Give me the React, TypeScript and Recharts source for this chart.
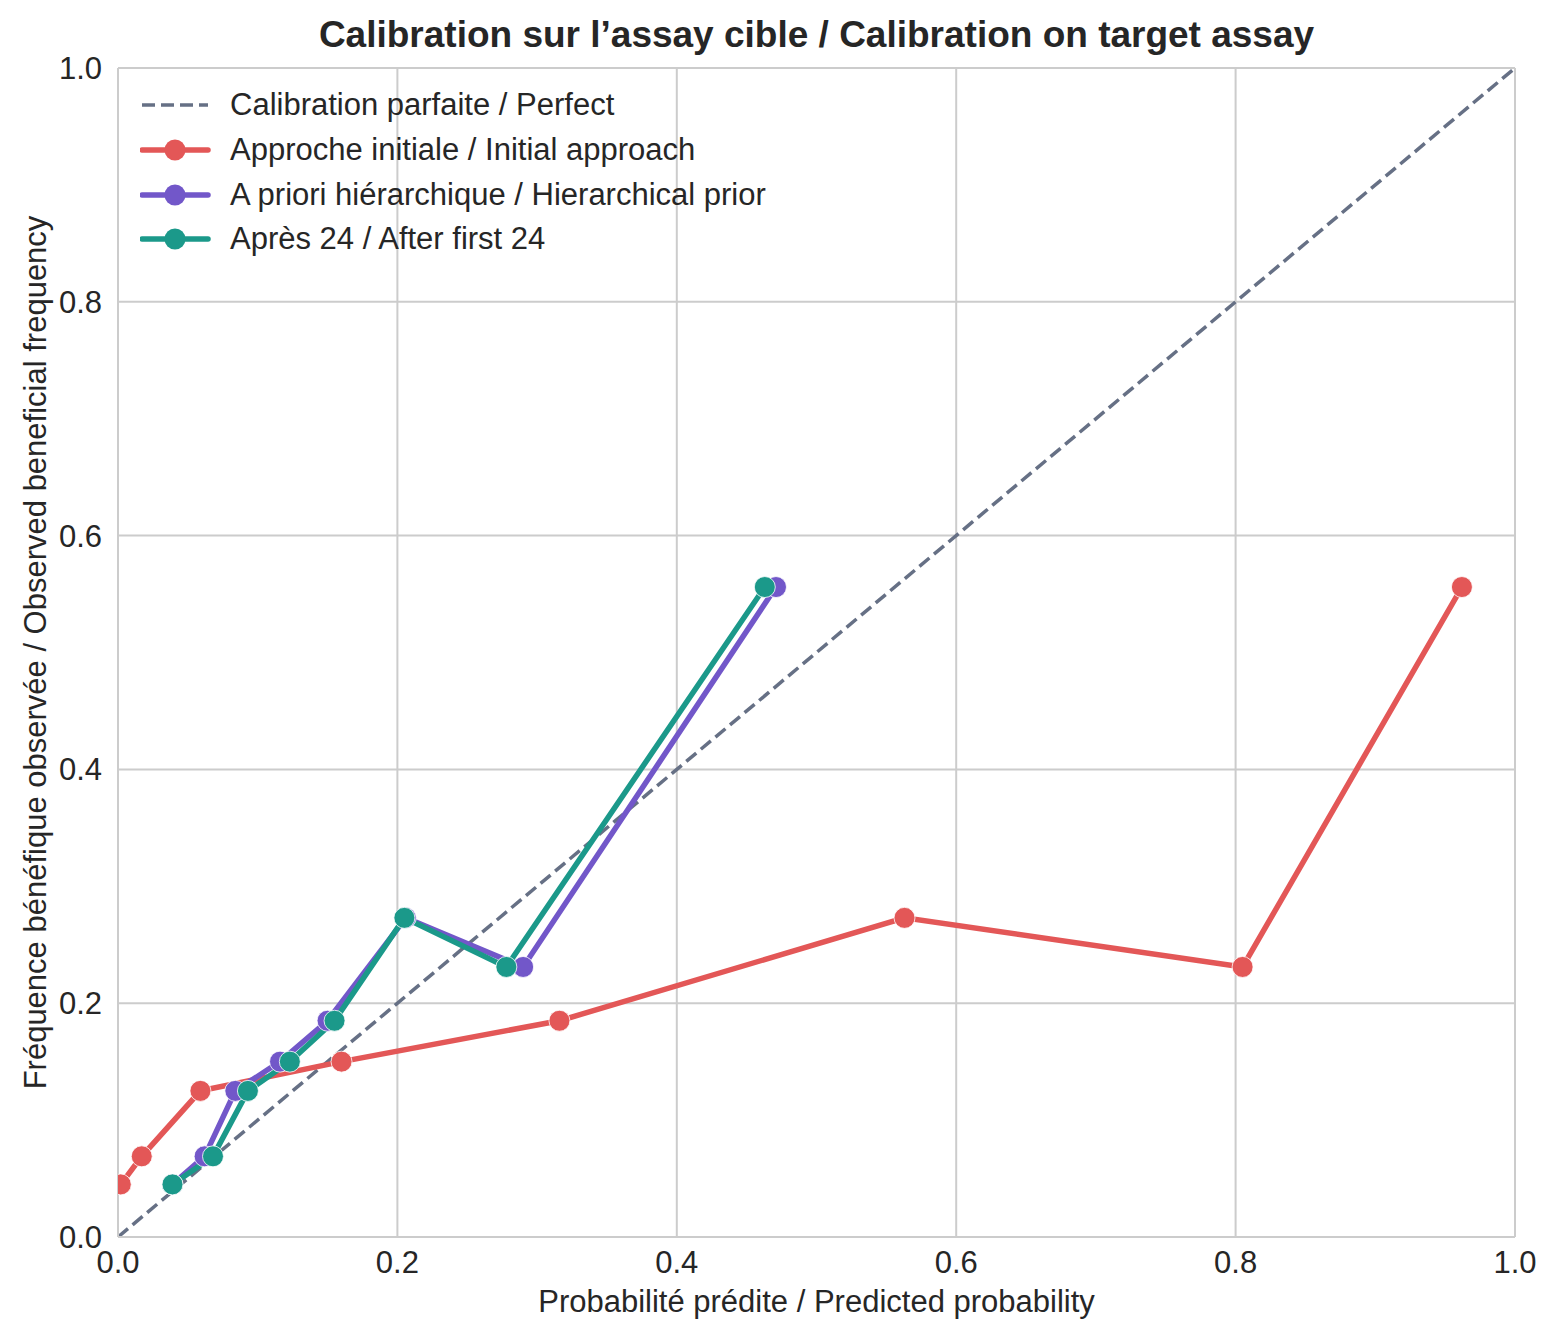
import { ComposedChart, Line, XAxis, YAxis, CartesianGrid } from "recharts";

const ticks = [0, 0.2, 0.4, 0.6, 0.8, 1.0];

const perfectX = [0, 1];
const perfectY = [0, 1];

const initialX = [0.002, 0.017, 0.059, 0.16, 0.316, 0.563, 0.805, 0.962];
const initialY = [0.045, 0.069, 0.125, 0.15, 0.185, 0.273, 0.231, 0.556];

const hierX = [0.039, 0.062, 0.084, 0.116, 0.15, 0.206, 0.29, 0.471];
const hierY = [0.045, 0.069, 0.125, 0.15, 0.185, 0.273, 0.231, 0.556];

const afterX = [0.039, 0.068, 0.093, 0.123, 0.155, 0.205, 0.278, 0.463];
const afterY = [0.045, 0.069, 0.125, 0.15, 0.185, 0.273, 0.231, 0.556];

const zip = (xs: number[], ys: number[]) => xs.map((x, i) => ({ x, y: ys[i] }));

const series = [
	{ name: "Approche initiale / Initial approach", color: "#e35757", data: zip(initialX, initialY) },
	{ name: "A priori hiérarchique / Hierarchical prior", color: "#7257c9", data: zip(hierX, hierY) },
	{ name: "Après 24 / After first 24", color: "#1b998a", data: zip(afterX, afterY) },
];

const FONT = "'Liberation Sans', Arial, sans-serif";
const GRID = "#cccccc";
const TEXT = "#262626";
const DIAG = "#667085";
const FS = 31;

function LegendBox() {
	const rows = [{ name: "Calibration parfaite / Perfect", color: DIAG, dashed: true }, ...series.map((s) => ({ ...s, dashed: false }))];
	return (
		<div style={{ position: "absolute", left: 140, top: 83, fontFamily: FONT, fontSize: FS, color: TEXT }}>
			{rows.map((r) => (
				<div key={r.name} style={{ display: "flex", alignItems: "center", height: 44.7 }}>
					<svg width={90} height={26}>
						<line
							x1={2}
							x2={68}
							y1={13}
							y2={13}
							stroke={r.color}
							strokeWidth={r.dashed ? 3.5 : 5.5}
							strokeDasharray={r.dashed ? "13 6" : undefined}
							strokeLinecap={r.dashed ? "butt" : "round"}
						/>
						{!r.dashed && <circle cx={35} cy={13} r={10.5} fill={r.color} />}
					</svg>
					<span style={{ whiteSpace: "nowrap" }}>{r.name}</span>
				</div>
			))}
		</div>
	);
}

export default function App() {
	return (
		<div style={{ position: "absolute", left: 0, top: 0, width: 1558, height: 1340, background: "#fff" }}>
			<div
				style={{
					position: "absolute",
					top: 14,
					left: 118,
					width: 1397,
					textAlign: "center",
					fontFamily: FONT,
					fontWeight: "bold",
					fontSize: 37,
					color: TEXT,
					whiteSpace: "nowrap",
				}}
			>
				Calibration sur l’assay cible / Calibration on target assay
			</div>
			<ComposedChart width={1558} height={1340} margin={{ top: 68, right: 43, left: 0, bottom: 0 }}>
				<CartesianGrid stroke={GRID} strokeWidth={2} />
				<XAxis
					type="number"
					dataKey="x"
					domain={[0, 1]}
					ticks={ticks}
					tickFormatter={(v: number) => v.toFixed(1)}
					height={103}
					axisLine={{ stroke: GRID, strokeWidth: 2 }}
					tickLine={false}
					tickMargin={8}
					tick={{ fill: TEXT, fontSize: FS, fontFamily: FONT }}
					allowDataOverflow
					label={{
						value: "Probabilité prédite / Predicted probability",
						position: "insideBottom",
						offset: 28,
						fill: TEXT,
						fontSize: FS,
						fontFamily: FONT,
					}}
				/>
				<YAxis
					type="number"
					dataKey="y"
					domain={[0, 1]}
					ticks={ticks}
					tickFormatter={(v: number) => v.toFixed(1)}
					width={118}
					axisLine={{ stroke: GRID, strokeWidth: 2 }}
					tickLine={false}
					tickMargin={10}
					tick={{ fill: TEXT, fontSize: FS, fontFamily: FONT }}
					allowDataOverflow
					label={{
						value: "Fréquence bénéfique observée / Observed beneficial frequency",
						angle: -90,
						position: "insideLeft",
						offset: 35,
						style: { textAnchor: "middle" },
						fill: TEXT,
						fontSize: FS,
						fontFamily: FONT,
					}}
				/>
				<Line
					data={zip(perfectX, perfectY)}
					dataKey="y"
					stroke={DIAG}
					strokeWidth={3.5}
					strokeDasharray="13 6"
					dot={false}
					activeDot={false}
					isAnimationActive={false}
				/>
				{series.map((s) => (
					<Line
						key={s.name}
						data={s.data}
						dataKey="y"
						name={s.name}
						stroke={s.color}
						strokeWidth={5.5}
						dot={{ r: 10.5, fill: s.color, stroke: "#fff", strokeWidth: 0.8 }}
						activeDot={false}
						isAnimationActive={false}
					/>
				))}
			</ComposedChart>
			<LegendBox />
		</div>
	);
}
